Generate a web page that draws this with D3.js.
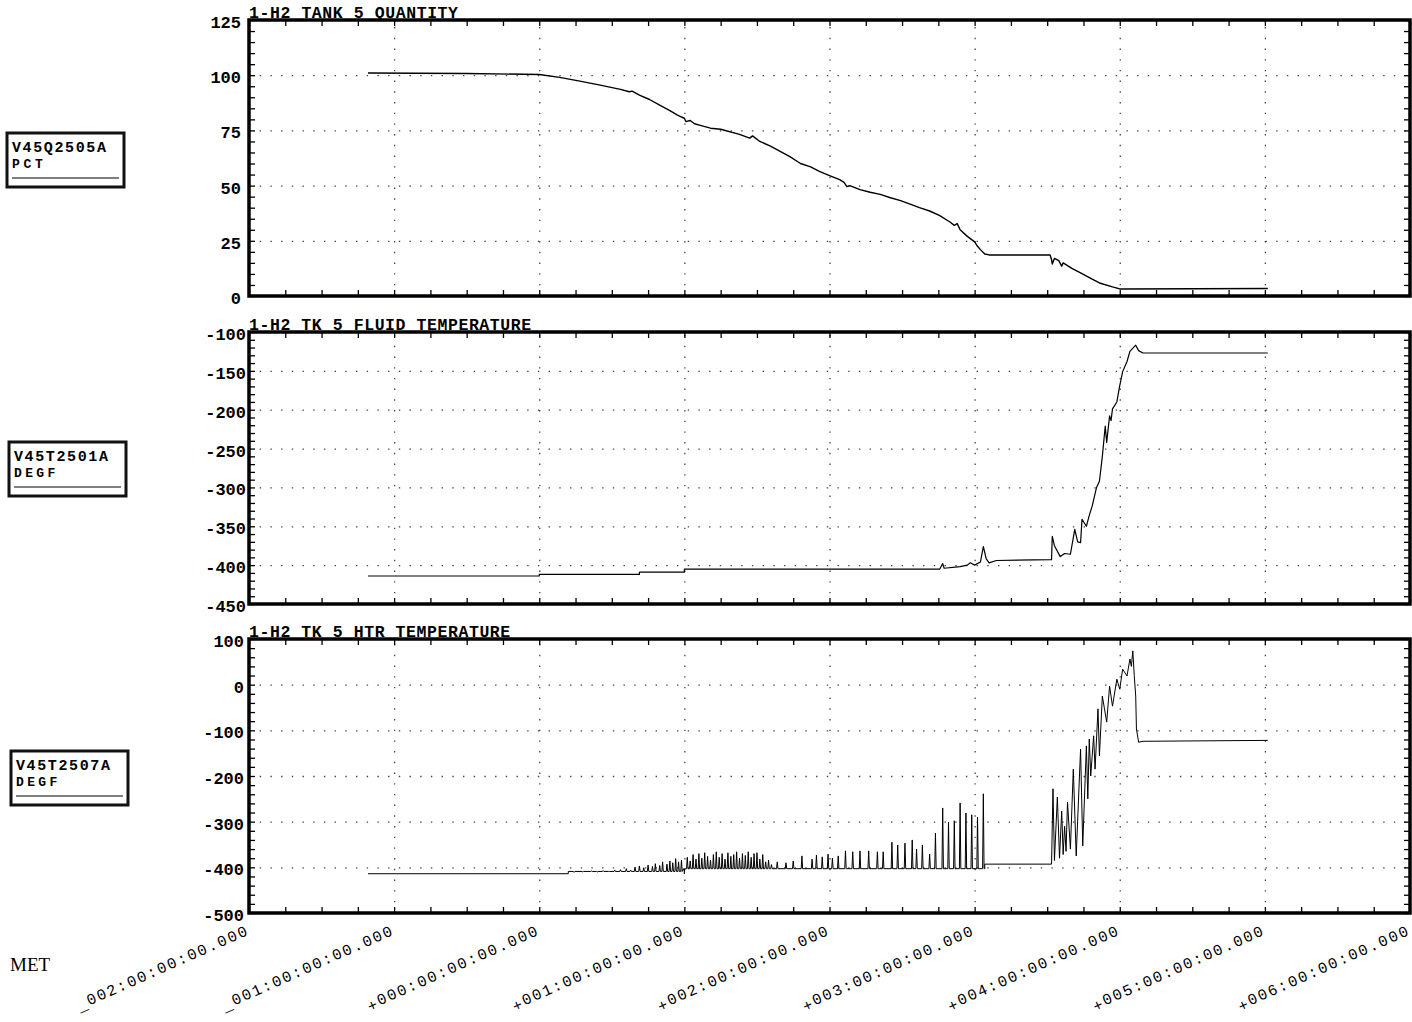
<!DOCTYPE html>
<html><head><meta charset="utf-8">
<script src="https://cdn.jsdelivr.net/npm/d3@7"></script>
<style>body{margin:0;background:#fff}svg{display:block}</style>
</head><body>
<svg id="c" width="1412" height="1022"></svg>
<script>
// ---------------- DATA ----------------
const titles = ["1-H2 TANK 5 QUANTITY", "1-H2 TK 5 FLUID TEMPERATURE", "1-H2 TK 5 HTR TEMPERATURE"];
const mnemonics = ["V45Q2505A", "V45T2501A", "V45T2507A"];
const units = ["PCT", "DEGF", "DEGF"];
const xTickValues = [-2, -1, 0, 1, 2, 3, 4, 5, 6];
const xTickLabels = ["-002:00:00:00.000", "-001:00:00:00.000", "+000:00:00:00.000", "+001:00:00:00.000",
  "+002:00:00:00.000", "+003:00:00:00.000", "+004:00:00:00.000", "+005:00:00:00.000", "+006:00:00:00.000"];
const qtyTicks = [0, 25, 50, 75, 100, 125];
const fluidTicks = [-450, -400, -350, -300, -250, -200, -150, -100];
const htrTicks = [-500, -400, -300, -200, -100, 0, 100];

// time in hours MET
const qtyT = [-1.18, -0.5, 0.0, 0.14, 0.28, 0.42, 0.56, 0.62, 0.64, 0.69, 0.76, 0.83, 0.90, 0.95, 0.97, 1.00,
  1.01, 1.04, 1.07, 1.11, 1.18, 1.25, 1.38, 1.45, 1.47, 1.52, 1.59, 1.66, 1.73, 1.80, 1.87, 1.93, 2.00,
  2.07, 2.10, 2.12, 2.14, 2.21, 2.28, 2.35, 2.42, 2.49, 2.56, 2.62, 2.69, 2.76, 2.83, 2.86, 2.88, 2.90,
  2.95, 3.00, 3.02, 3.04, 3.07, 3.10, 3.52, 3.53, 3.535, 3.55, 3.58, 3.60, 3.61, 3.67, 3.73, 3.80, 3.86,
  3.95, 4.00, 5.02];
const qtyV = [101, 100.8, 100.3, 99, 97.3, 95.5, 93.6, 92.5, 92.8, 91, 89, 86.4, 84, 82, 81.4, 80.5,
  79, 79.5, 78, 77.3, 76, 75.5, 73.2, 71.5, 72.5, 70, 68, 65.5, 63, 60, 58.5, 56.4, 54.5,
  52.7, 51.5, 49.5, 50, 48.2, 47, 46, 44.5, 43.2, 41.5, 40, 38.5, 36.4, 33.5, 32, 32.8, 30,
  27, 24.5, 22.5, 21, 19, 18.6, 18.6, 16.5, 14.5, 17, 16, 13.5, 15, 12.5, 10.5, 8, 5.9,
  4.1, 3.2, 3.4];

const fluidT = [-1.18, 0.0, 0.0, 0.69, 0.69, 1.0, 1.0, 2.76, 2.78, 2.79, 2.90, 2.95, 2.97, 3.00, 3.04, 3.06,
  3.08, 3.10, 3.15, 3.53, 3.535, 3.55, 3.59, 3.62, 3.66, 3.69, 3.71, 3.73, 3.74, 3.77, 3.79, 3.81, 3.84, 3.86,
  3.88, 3.90, 3.91, 3.93, 3.94, 3.95, 3.98, 4.00, 4.02, 4.05, 4.07, 4.11, 4.13, 4.16, 5.02];
const fluidV = [-414, -414, -412, -412, -409, -409, -405, -405, -398, -404, -402, -400, -397, -400, -396, -376,
  -392, -397, -394, -393, -363, -375, -389, -385, -386, -354, -370, -371, -341, -350, -336, -324, -300, -292,
  -260, -221, -242, -208, -214, -199, -190, -169, -151, -138, -125, -117, -124, -127, -127];

// heater: baseline levels, spikes, then the final rise
const htrLevelStart = [-1.18, 0.20, 1.00, 3.07];
const htrLevelValue = [-414, -409, -403, -393];
const htrSpikeT = [0.24, 0.30, 0.36, 0.40, 0.44, 0.48, 0.52, 0.56, 0.60, 0.63, 0.66, 0.69, 0.72, 0.75, 0.78,
  0.80, 0.83, 0.85, 0.88, 0.90, 0.92, 0.94, 0.96, 0.98, 1.00,
  1.02, 1.04, 1.06, 1.08, 1.10, 1.12, 1.14, 1.16, 1.18, 1.20, 1.22, 1.24, 1.26, 1.28, 1.30, 1.32, 1.34,
  1.36, 1.38, 1.40, 1.42, 1.44, 1.46, 1.48, 1.50, 1.52, 1.54, 1.56, 1.58, 1.60,
  1.64, 1.70, 1.75, 1.81, 1.88, 1.91, 1.95, 1.99, 2.02, 2.06, 2.11, 2.16, 2.21, 2.27, 2.33, 2.37, 2.43,
  2.47, 2.52, 2.57, 2.60, 2.64, 2.69, 2.73, 2.78, 2.82, 2.86, 2.90, 2.94, 2.98, 3.02, 3.06];
const htrSpikePeak = [-411, -410, -408, -410, -407, -409, -406, -405, -403, -406, -400, -397, -401, -395, -398,
  -392, -396, -388, -393, -386, -390, -381, -388, -384, -414,
  -378, -386, -372, -382, -370, -380, -368, -376, -384, -372, -366, -378, -370, -382, -368, -376, -372,
  -366, -380, -370, -374, -366, -378, -370, -368, -382, -372, -388, -384, -394,
  -388, -390, -386, -375, -382, -373, -377, -371, -380, -375, -364, -366, -364, -364, -366, -366, -345,
  -351, -347, -340, -360, -351, -371, -325, -270, -301, -298, -259, -281, -285, -290, -239];
const htrRiseT = [3.53, 3.54, 3.55, 3.57, 3.585, 3.60, 3.61, 3.62, 3.63, 3.64, 3.66, 3.68, 3.70, 3.73, 3.745,
  3.77, 3.78, 3.79, 3.80, 3.82, 3.83, 3.85, 3.86, 3.88, 3.91, 3.93, 3.95, 3.98, 4.00, 4.02, 4.05, 4.07,
  4.08, 4.09, 4.10, 4.11, 4.115, 4.13, 4.16, 5.02];
const htrRiseV = [-393, -228, -385, -246, -380, -277, -372, -310, -365, -257, -360, -185, -375, -141, -353,
  -134, -250, -119, -200, -112, -185, -53, -156, -25, -82, -3, -47, 12, -10, 34, 19, 56,
  40, 74, 20, -25, -97, -126, -124, -122];

// ---------------- BUILD HEATER SERIES ----------------
function htrBase(t) {
  let v = htrLevelValue[0];
  for (let i = 0; i < htrLevelStart.length; i++) if (t >= htrLevelStart[i] - 1e-9) v = htrLevelValue[i];
  return v;
}
const htrLow = [];
htrLevelStart.forEach((s, i) => {
  if (i > 0) htrLow.push([s, htrLevelValue[i - 1], 0]);
  htrLow.push([s, htrLevelValue[i], 1]);
});
htrSpikeT.forEach((t, i) => {
  const b = htrBase(t);
  htrLow.push([t - 0.005, b, 0], [t, htrSpikePeak[i], 0], [t + 0.005, b, 0]);
});
htrLow.sort((a, b) => (a[0] - b[0]) || (a[2] - b[2]));
const htrPts = htrLow.map(d => [d[0], d[1]]);
htrRiseT.forEach((t, i) => htrPts.push([t, htrRiseV[i]]));

const series = [
  qtyT.map((t, i) => [t, qtyV[i]]),
  fluidT.map((t, i) => [t, fluidV[i]]),
  htrPts
];

// ---------------- LAYOUT ----------------
const X0 = 249, X1 = 1410;
const x = d3.scaleLinear().domain([-2, 6]).range([X0, X1]);
const svg = d3.select('#c');
const panels = [
  {domain: [0, 125], ticks: qtyTicks, minor: 5, top: 20, bottom: 296, labelEnd: 241, box: [7, 133], lw: 1.4},
  {domain: [-450, -100], ticks: fluidTicks, minor: 10, top: 332, bottom: 604, labelEnd: 246, box: [9, 442], lw: 1.2},
  {domain: [-500, 100], ticks: htrTicks, minor: 20, top: 639, bottom: 913, labelEnd: 244, box: [11, 751], lw: 1.0}
];
const fmt = v => (v < 0 ? "-" : "") + Math.abs(v);

panels.forEach((p, k) => {
  const y = d3.scaleLinear().domain(p.domain).range([p.bottom, p.top]);
  const g = svg.append('g');

  const cid = 'clip' + k;
  svg.append('clipPath').attr('id', cid).append('rect')
    .attr('x', X0).attr('y', p.top).attr('width', X1 - X0).attr('height', p.bottom - p.top);

  // horizontal dotted grid
  const hg = g.append('g').attr('transform', `translate(${X0},0)`)
    .call(d3.axisLeft(y).tickValues(p.ticks.filter(v => v !== p.domain[0] && v !== p.domain[1]))
      .tickSize(-(X1 - X0)).tickFormat(''));
  hg.select('.domain').remove();
  hg.selectAll('line').attr('stroke', '#444').attr('stroke-width', 1.3).attr('stroke-dasharray', '1.4,9.3');

  // vertical dotted grid
  const vg = g.append('g').attr('transform', `translate(0,${p.bottom})`)
    .call(d3.axisBottom(x).tickValues([-1, 0, 1, 2, 3, 4, 5]).tickSize(-(p.bottom - p.top)).tickFormat(''));
  vg.select('.domain').remove();
  vg.selectAll('line').attr('stroke', '#444').attr('stroke-width', 1.3).attr('stroke-dasharray', '1.4,9.3');

  // minor ticks (x) top & bottom, inward
  const xm = d3.range(-2, 6.001, 0.25);
  const tb = g.append('g').attr('transform', `translate(0,${p.bottom})`)
    .call(d3.axisBottom(x).tickValues(xm).tickSize(-6).tickFormat(''));
  tb.select('.domain').remove();
  const tt = g.append('g').attr('transform', `translate(0,${p.top})`)
    .call(d3.axisTop(x).tickValues(xm).tickSize(-6).tickFormat(''));
  tt.select('.domain').remove();

  // minor ticks (y) left & right, inward
  const ym = d3.range(p.domain[0], p.domain[1] + 0.001, p.minor);
  const tl = g.append('g').attr('transform', `translate(${X0},0)`)
    .call(d3.axisLeft(y).tickValues(ym).tickSize(-6).tickFormat(''));
  tl.select('.domain').remove();
  const tr = g.append('g').attr('transform', `translate(${X1},0)`)
    .call(d3.axisRight(y).tickValues(ym).tickSize(-6).tickFormat(''));
  tr.select('.domain').remove();
  g.selectAll('.tick line').filter(function () { return !this.getAttribute('stroke-dasharray'); })
    .attr('stroke', '#000').attr('stroke-width', 1.3);

  // tick labels
  const la = g.append('g').attr('transform', `translate(${p.labelEnd},2)`)
    .call(d3.axisLeft(y).tickValues(p.ticks).tickSize(0).tickPadding(0).tickFormat(fmt));
  la.select('.domain').remove();
  la.selectAll('text').attr('font-family', 'Liberation Mono, monospace').attr('font-weight', 'bold')
    .attr('font-size', 17).attr('fill', '#000');

  // data line
  g.append('path').datum(series[k]).attr('clip-path', `url(#${cid})`)
    .attr('fill', 'none').attr('stroke', '#000').attr('stroke-width', p.lw).attr('stroke-linejoin', 'round')
    .attr('d', d3.line().x(d => x(d[0])).y(d => y(d[1])));

  // frame
  g.append('rect').attr('x', X0).attr('y', p.top).attr('width', X1 - X0).attr('height', p.bottom - p.top)
    .attr('fill', 'none').attr('stroke', '#000').attr('stroke-width', 3.5);

  // title
  g.append('text').attr('x', X0).attr('y', p.top - 2).text(titles[k])
    .attr('font-family', 'Liberation Mono, monospace').attr('font-weight', 'bold').attr('font-size', 16.5)
    .attr('textLength', titles[k].length * 10.45).attr('lengthAdjust', 'spacing').attr('fill', '#000');

  // left box
  const [bx, by] = p.box;
  g.append('rect').attr('x', bx).attr('y', by).attr('width', 117).attr('height', 54)
    .attr('fill', 'none').attr('stroke', '#111').attr('stroke-width', 3);
  g.append('text').attr('x', bx + 5).attr('y', by + 19).text(mnemonics[k])
    .attr('font-family', 'Liberation Mono, monospace').attr('font-weight', 'bold').attr('font-size', 15)
    .attr('textLength', 94).attr('lengthAdjust', 'spacing');
  g.append('text').attr('x', bx + 5).attr('y', by + 35).text(units[k])
    .attr('font-family', 'Liberation Mono, monospace').attr('font-weight', 'bold').attr('font-size', 13)
    .attr('textLength', units[k].length * 10.3).attr('lengthAdjust', 'spacing');
  g.append('line').attr('x1', bx + 5).attr('x2', bx + 112).attr('y1', by + 45).attr('y2', by + 45)
    .attr('stroke', '#000').attr('stroke-width', 1.2);
});

// MET label
svg.append('text').attr('x', 10).attr('y', 971).text('MET')
  .attr('font-family', 'Liberation Serif, serif').attr('font-size', 19).attr('fill', '#000');

// rotated x tick labels
const xl = svg.append('g');
xTickValues.forEach((v, i) => {
  const lab = xTickLabels[i];
  const t = xl.append('text')
    .attr('transform', `translate(${x(v) + 1},934) rotate(-24)`)
    .attr('text-anchor', 'end')
    .attr('font-family', 'Liberation Mono, monospace').attr('font-size', 15.5)
    .attr('letter-spacing', 1.7).attr('fill', '#000');
  t.append('tspan').attr('dy', 2).text(lab[0] === '-' ? '_' : lab[0]);
  t.append('tspan').attr('dy', -2).text(lab.slice(1));
});
</script>
</body></html>
